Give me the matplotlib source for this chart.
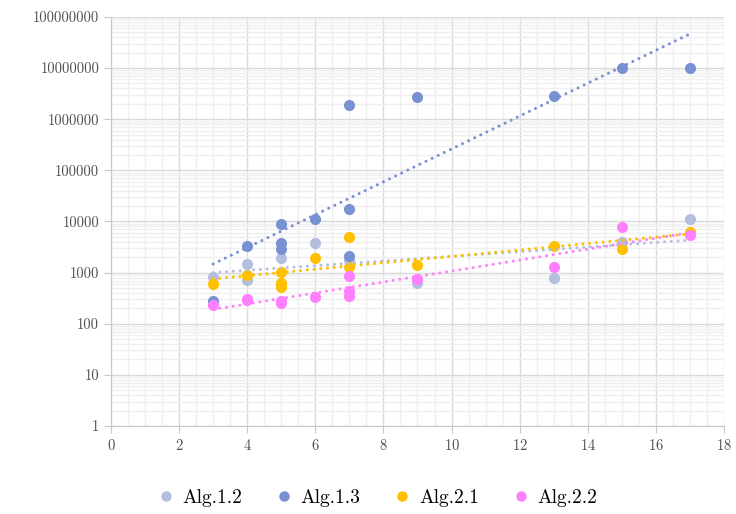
import numpy as np
import matplotlib
matplotlib.use("Agg")
import matplotlib.pyplot as plt
from matplotlib import ticker
from matplotlib.lines import Line2D

plt.rcParams['font.family'] = ['cmr10', 'DejaVu Serif']
plt.rcParams['axes.formatter.use_mathtext'] = True

labels = ["Alg.1.2", "Alg.1.3", "Alg.2.1", "Alg.2.2"]
colors = ["#b4bfdf", "#7891d2", "#ffc000", "#ff80ff"]

alg12_x = [3, 4, 4, 5, 6, 7, 9, 13, 15, 17]
alg12_y = [830, 1480, 720, 1900, 3870, 1750, 620, 800, 4000, 11200]

alg13_x = [3, 4, 5, 5, 5, 6, 7, 7, 7, 9, 13, 15, 17]
alg13_y = [280, 3300, 8900, 3870, 2870, 11100, 17700, 2140, 1900000, 2770000, 2800000, 10200000, 10000000]

alg21_x = [3, 4, 5, 5, 5, 6, 7, 7, 9, 13, 15, 17]
alg21_y = [600, 890, 1030, 640, 530, 1950, 4900, 1300, 1430, 3370, 2900, 6200]

alg22_x = [3, 4, 4, 5, 5, 6, 7, 7, 7, 9, 13, 15, 17]
alg22_y = [233, 305, 285, 280, 260, 340, 840, 430, 350, 740, 1270, 7700, 5450]

series = [(alg12_x, alg12_y), (alg13_x, alg13_y), (alg21_x, alg21_y), (alg22_x, alg22_y)]

fig = plt.figure(figsize=(7.36, 5.14), dpi=100)
ax = fig.add_axes([0.1508, 0.1712, 0.8329, 0.7958])

for (xs, ys), c, lab in zip(series, colors, labels):
    ax.scatter(xs, ys, s=64, color=c, zorder=3, linewidths=0, label=lab)

# exponential trendlines
for (xs, ys), c in zip(series, colors):
    xs = np.array(xs, dtype=float)
    k, b = np.polyfit(xs, np.log(ys), 1)
    tx = np.linspace(min(xs), max(xs), 50)
    ax.plot(tx, np.exp(b + k * tx), color=c, lw=2.2, linestyle=(0, (0.01, 2.2)),
            dash_capstyle='round', zorder=4)

ax.set_yscale('log')
ax.set_xlim(0, 18)
ax.set_ylim(1, 1e8)
ax.xaxis.set_major_locator(ticker.MultipleLocator(2))
ax.xaxis.set_minor_locator(ticker.MultipleLocator(0.5))
ax.yaxis.set_major_locator(ticker.LogLocator(base=10, numticks=20))
ax.yaxis.set_minor_locator(ticker.LogLocator(base=10, subs=np.arange(2, 10), numticks=20))
ax.yaxis.set_major_formatter(ticker.FuncFormatter(lambda v, p: f"{v:.0f}"))
ax.yaxis.set_minor_formatter(ticker.NullFormatter())

ax.grid(True, which='major', color='#d9d9d9', lw=1)
ax.grid(True, which='minor', color='#efefef', lw=1)
ax.set_axisbelow(True)
for s in ['top', 'right']:
    ax.spines[s].set_visible(False)
for s in ['left', 'bottom']:
    ax.spines[s].set_color('#c8c8c8')
ax.tick_params(which='major', length=5, color='#c8c8c8', labelsize=10.5, labelcolor='#505050')
ax.tick_params(which='minor', length=0)

handles = [Line2D([], [], marker='o', ls='', color=c, markersize=6.5) for c in colors]
fig.legend(handles, labels, loc='center', bbox_to_anchor=(0.513, 0.032), ncol=4,
           frameon=False, fontsize=14, handlelength=0.8, handletextpad=0.45,
           columnspacing=1.75)

fig.savefig("out.png", dpi=100)
